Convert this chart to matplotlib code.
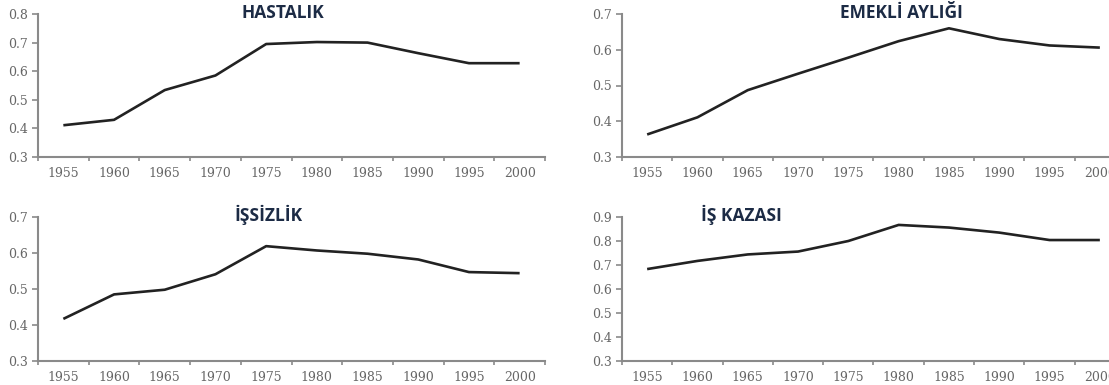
import numpy as np
import matplotlib
matplotlib.use("Agg")
import matplotlib.pyplot as plt

# Years (category axis) and the four series
years = ["1955", "1960", "1965", "1970", "1975", "1980", "1985", "1990", "1995", "2000"]

hastalik = [0.411, 0.430, 0.534, 0.585, 0.695, 0.702, 0.700, 0.663, 0.628, 0.628]
emekli = [0.363, 0.411, 0.487, 0.533, 0.578, 0.624, 0.660, 0.630, 0.612, 0.606]
issizlik = [0.417, 0.485, 0.498, 0.541, 0.619, 0.607, 0.598, 0.582, 0.547, 0.544]
is_kazasi = [0.683, 0.717, 0.744, 0.756, 0.800, 0.867, 0.856, 0.835, 0.804, 0.804]

titles = ["HASTALIK", "EMEKLİ AYLIĞI", "İŞSİZLİK", "İŞ KAZASI"]
series = [hastalik, emekli, issizlik, is_kazasi]
ylims = [(0.3, 0.8), (0.3, 0.7), (0.3, 0.7), (0.3, 0.9)]

fig = plt.figure(figsize=(11.09, 3.85), dpi=100)

W, H = 1109, 385
# axes boxes in pixels: left, top, right, bottom
boxes = [
    (38, 14, 545, 157),
    (622, 14, 1125, 157),
    (38, 217, 545, 361),
    (622, 217, 1125, 361),
]
# title centre in axes fraction
title_pos = [(0.483, 1.01), (0.555, 1.01), (0.454, 1.015), (0.237, 1.015)]

axis_gray = "#8a8a8a"
label_gray = "#666666"

for i in range(4):
    l, t, r, b = boxes[i]
    ax = fig.add_axes([l / W, 1 - b / H, (r - l) / W, (b - t) / H])
    x = np.arange(len(years))
    ax.plot(x, series[i], color="#222222", linewidth=1.9, solid_capstyle="butt")

    ax.set_xlim(-0.5, len(years) - 0.5)
    ax.set_ylim(*ylims[i])
    ax.set_yticks(np.arange(ylims[i][0], ylims[i][1] + 0.001, 0.1))
    ax.set_yticklabels([f"{v:.1f}" for v in ax.get_yticks()])

    # ticks between categories, labels on the categories
    ax.set_xticks(np.arange(-0.5, len(years), 1.0))
    ax.set_xticklabels([])
    ax.set_xticks(x, minor=True)
    ax.set_xticklabels(years, minor=True)
    ax.tick_params(axis="x", which="major", length=3, width=1.2, color=axis_gray)
    ax.tick_params(axis="x", which="minor", length=0, pad=7)
    ax.tick_params(axis="y", length=4, width=1.2, color=axis_gray, pad=3)

    for lab in ax.get_xticklabels(minor=True) + ax.get_yticklabels():
        lab.set_fontfamily("DejaVu Serif")
        lab.set_fontsize(9)
        lab.set_color(label_gray)

    for s in ["top", "right"]:
        ax.spines[s].set_visible(False)
    for s in ["left", "bottom"]:
        ax.spines[s].set_color(axis_gray)
        ax.spines[s].set_linewidth(1.5)

    tx, ty = title_pos[i]
    ax.text(tx, ty, titles[i], transform=ax.transAxes, ha="center", va="center",
            fontsize=12.5, fontweight="bold", color="#1c2b45", family="Open Sans")

fig.savefig("out.png", dpi=100)
